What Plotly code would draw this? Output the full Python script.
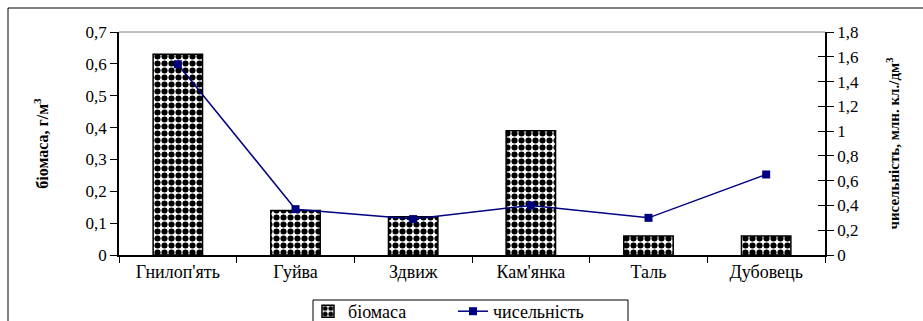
import plotly.graph_objects as go

categories = ["Гнилоп'ять", "Гуйва", "Здвиж", "Кам'янка", "Таль", "Дубовець"]
biomass = [0.63, 0.14, 0.12, 0.39, 0.06, 0.06]
abundance = [1.54, 0.37, 0.29, 0.40, 0.30, 0.65]
left_ticks = [0, 0.1, 0.2, 0.3, 0.4, 0.5, 0.6, 0.7]
left_labels = ["0", "0,1", "0,2", "0,3", "0,4", "0,5", "0,6", "0,7"]
right_ticks = [0, 0.2, 0.4, 0.6, 0.8, 1, 1.2, 1.4, 1.6, 1.8]
right_labels = ["0", "0,2", "0,4", "0,6", "0,8", "1", "1,2", "1,4", "1,6", "1,8"]

FONT = "Times New Roman, Liberation Serif, serif"

fig = go.Figure()
fig.add_trace(go.Bar(
    x=categories, y=biomass, name="біомаса", width=0.42,
    marker=dict(color="white", line=dict(color="black", width=1.5),
                pattern=dict(shape=".", fgcolor="black", bgcolor="white",
                             size=7, solidity=0.6, fillmode="replace")),
    yaxis="y",
))
fig.add_trace(go.Scatter(
    x=categories, y=abundance, name="чисельність", mode="lines+markers",
    line=dict(color="#000080", width=1.5),
    marker=dict(symbol="square", size=8, color="#000080"),
    yaxis="y2",
))
fig.add_trace(go.Scatter(x=[categories[0]], y=[None], yaxis="y3", showlegend=False,
                         hoverinfo="skip"))

fig.update_layout(
    width=923, height=321,
    margin=dict(l=119, r=98, t=32, b=66, autoexpand=False),
    paper_bgcolor="white", plot_bgcolor="white",
    font=dict(family=FONT, size=15, color="black"),
    showlegend=True,
    legend=dict(orientation="h", x=308 / 923, xanchor="left", xref="container",
                y=1 - 293 / 321, yanchor="top", yref="container",
                borderwidth=0, bgcolor="rgba(0,0,0,0)", entrywidth=100,
                font=dict(family=FONT, size=18), tracegroupgap=0),
    xaxis=dict(showline=True, linecolor="black", linewidth=1.5, automargin=False,
               ticks="outside", ticklen=6, tickcolor="black", tickson="boundaries",
               tickfont=dict(family=FONT, size=18), showgrid=False),
    yaxis=dict(range=[0, 0.7], tickvals=left_ticks, ticktext=left_labels, automargin=False,
               showline=True, linecolor="black", linewidth=1.5,
               ticks="outside", ticklen=7, tickcolor="black", showgrid=False,
               zeroline=False, tickfont=dict(family=FONT, size=17),
               title=dict(text="<b>біомаса, г/м<sup>3</sup></b>", standoff=33,
                          font=dict(family=FONT, size=16))),
    yaxis2=dict(range=[0, 1.8], tickvals=right_ticks, ticktext=right_labels,
                overlaying="y", side="right", automargin=False,
                showline=True, linecolor="black", linewidth=1.5,
                ticks="outside", ticklen=7, tickcolor="black", showgrid=False,
                zeroline=False, tickfont=dict(family=FONT, size=17),
                title=dict(text="<b>чисельність, млн. кл./дм<sup>3</sup></b>", standoff=31,
                           font=dict(family=FONT, size=15))),
    yaxis3=dict(range=[0, 1.8], tickvals=right_ticks, overlaying="y", side="right",
                automargin=False, showline=False, ticks="inside", ticklen=7,
                tickcolor="black", showticklabels=False, showgrid=False, zeroline=False),
)
fig.add_shape(type="line", xref="paper", yref="paper", x0=0, x1=1, y0=1, y1=1,
              line=dict(color="#808080", width=1))
fig.add_shape(type="rect", xref="paper", yref="paper",
              x0=(8 - 119) / 706, x1=(940 - 119) / 706,
              y0=(255 - 340) / 223, y1=(255 - 8) / 223,
              line=dict(color="black", width=1), fillcolor="rgba(0,0,0,0)", layer="below")
# legend frame
fig.add_shape(type="rect", xref="paper", yref="paper",
              x0=(313 - 119) / 706, x1=(628 - 119) / 706,
              y0=(255 - 330) / 223, y1=(255 - 300) / 223,
              line=dict(color="black", width=1), fillcolor="white", layer="below")

fig.write_html("out.html", config={"displayModeBar": False},
               post_script="document.body.style.margin='0';document.body.style.overflow='hidden';")
